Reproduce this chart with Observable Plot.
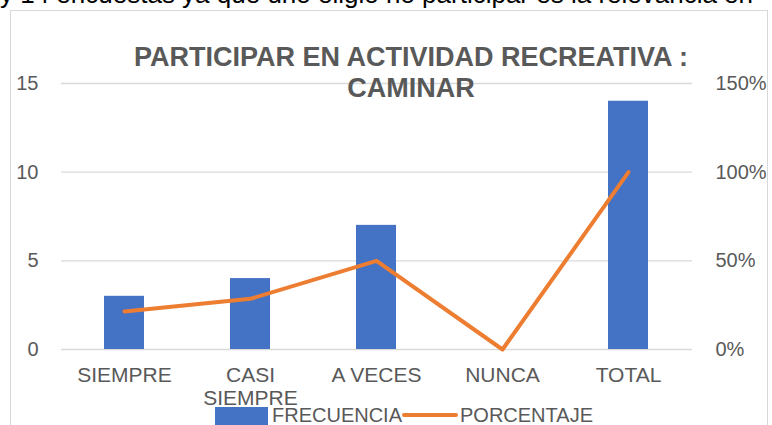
<!DOCTYPE html>
<html>
<head>
<meta charset="utf-8">
<script src="https://cdn.jsdelivr.net/npm/d3@7"></script>
<script src="https://cdn.jsdelivr.net/npm/@observablehq/plot@0.6"></script>
<style>
  html, body { margin: 0; padding: 0; background: #fff; }
  #wrap { position: relative; width: 772px; height: 425px; overflow: hidden; font-family: "Liberation Sans", Arial, sans-serif; }
  #top { position: absolute; left: 0px; top: -21px; font-size: 26px; line-height: 30px; color: #000; white-space: nowrap; }
  #box { position: absolute; left: 10px; top: 10px; width: 758px; height: 430px; border: 1px solid #d9d9d9; box-sizing: border-box; background: #fff; }
  #chart { position: absolute; left: 0; top: 0; }
  .title { position: absolute; left: 0; width: 822px; text-align: center; font-weight: bold; font-size: 27px; line-height: 31px; color: #595959; white-space: nowrap; }
  .leg { position: absolute; font-size: 20px; color: #595959; white-space: nowrap; line-height: 1; }
</style>
</head>
<body>
<div id="wrap">
  <div id="top">y 14 encuestas ya que uno eligió no participar es la relevancia en</div>
  <div id="box"></div>
  <div id="chart"></div>
  <div class="title" style="top:42px">PARTICIPAR EN ACTIVIDAD RECREATIVA :</div>
  <div class="title" style="top:73px">CAMINAR</div>
  <div style="position:absolute;left:215px;top:407px;width:53px;height:18px;background:#4472C4"></div>
  <div class="leg" style="left:272px;top:405px">FRECUENCIA</div>
  <div style="position:absolute;left:402px;top:413px;width:56px;height:4px;border-radius:2px;background:#ED7D31"></div>
  <div class="leg" style="left:460px;top:405px">PORCENTAJE</div>
</div>
<script>
const categories = ["SIEMPRE", "CASI\nSIEMPRE", "A VECES", "NUNCA", "TOTAL"];
const frecuencia = [3, 4, 7, 0, 14];
const porcentaje = [21.43, 28.57, 50, 0, 100];
const leftTicks = [0, 5, 10, 15];
const rightTicks = ["0%", "50%", "100%", "150%"];

const data = categories.map((c, i) => ({cat: c, freq: frecuencia[i], pct: porcentaje[i]}));

const chart = Plot.plot({
  width: 772,
  height: 425,
  marginLeft: 61,
  marginRight: 80,
  marginTop: 83,
  marginBottom: 76,
  style: {fontFamily: "Liberation Sans, Arial, sans-serif", fontSize: "20px", color: "#595959", background: "transparent"},
  x: {domain: categories, paddingInner: 0.68, paddingOuter: 0.34, label: null},
  y: {domain: [0, 15], label: null},
  marks: [
    Plot.gridY(leftTicks, {stroke: "#d9d9d9", strokeOpacity: 1, strokeWidth: 1.3}),
    Plot.barY(data, {x: "cat", y: "freq", fill: "#4472C4"}),
    Plot.lineY(data, {x: "cat", y: d => d.pct / 10, stroke: "#ED7D31", strokeWidth: 4, strokeLinecap: "round", strokeLinejoin: "round"}),
    Plot.axisY(leftTicks, {anchor: "left", tickSize: 0, tickPadding: 23, fontSize: 20, fill: "#595959"}),
    Plot.axisY(leftTicks, {anchor: "right", tickSize: 0, tickPadding: 23, fontSize: 20, fill: "#595959", tickFormat: (d, i) => rightTicks[i], textAnchor: "start"}),
    Plot.axisX({tickSize: 0, tickPadding: 16, fontSize: 21, lineHeight: 1.1, fill: "#595959"})
  ]
});
document.getElementById("chart").appendChild(chart);
</script>
</body>
</html>
